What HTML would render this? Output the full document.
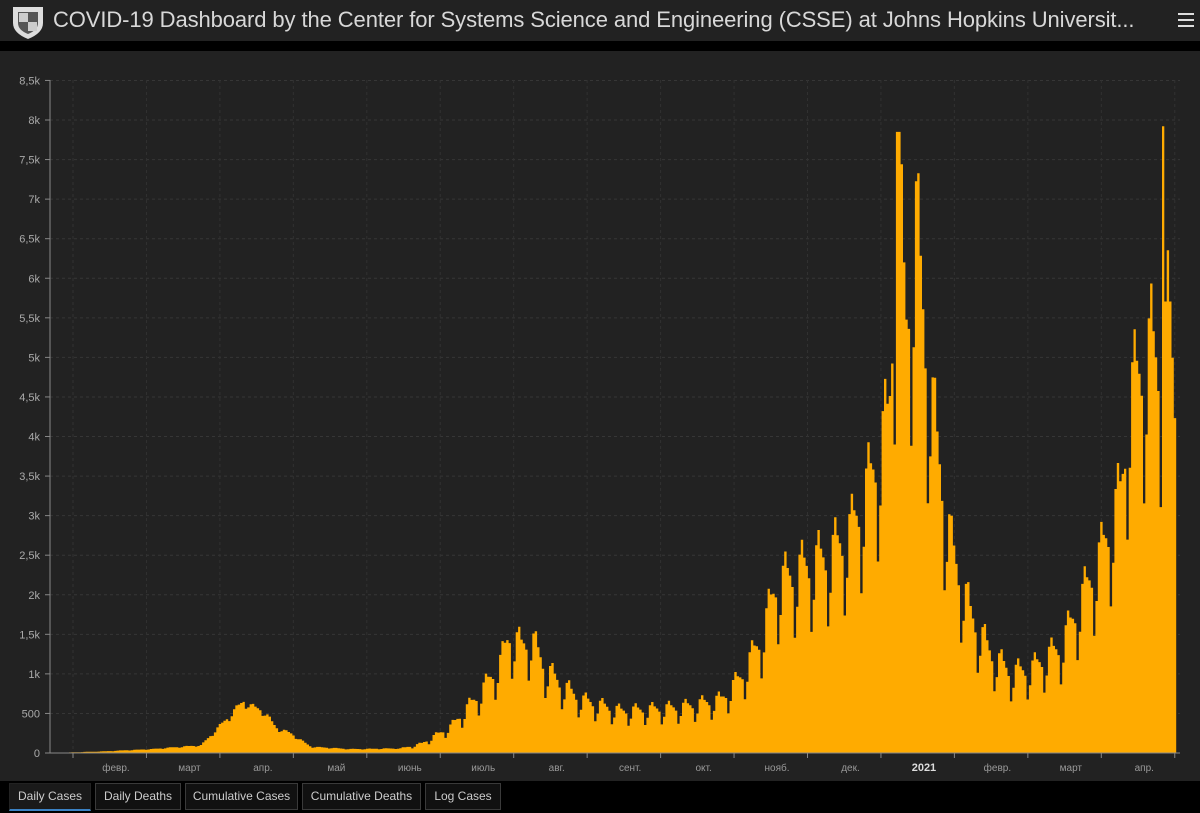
<!DOCTYPE html>
<html><head><meta charset="utf-8"><style>
html,body{margin:0;padding:0;width:1200px;height:813px;overflow:hidden;background:#000;font-family:"Liberation Sans",sans-serif}
#hdr{position:absolute;left:0;top:0;width:1200px;height:41px;background:#222}
#hdr .t{position:absolute;left:53px;top:7px;font-size:22px;color:#d8d8d8;white-space:nowrap;letter-spacing:-0.1px}
#panel{position:absolute;left:0;top:51px;width:1200px;height:730px;background:#222}
#tabs{position:absolute;left:0;top:781px;width:1200px;height:32px;background:#000}
.tab{position:absolute;top:2px;height:25px;border:1px solid #3a3a3a;color:#ccc;font-size:12px;line-height:25px;text-align:center;background:#111}
</style></head><body>
<div id="hdr">
<svg width="40" height="40" style="position:absolute;left:10px;top:3px"><path d="M3 4 L33 4 L33 20 Q33 30 18 36 Q3 30 3 20 Z" fill="#ddd"/><path d="M8 9 L28 9 L28 20 Q28 27 18 31 Q8 27 8 20Z" fill="#555"/><rect x="9" y="10" width="9" height="9" fill="#ccc"/><rect x="18" y="19" width="9" height="9" fill="#ccc"/></svg>
<div class="t">COVID-19 Dashboard by the Center for Systems Science and Engineering (CSSE) at Johns Hopkins Universit...</div>
<svg width="20" height="20" style="position:absolute;left:1177px;top:11px"><rect x="1" y="2" width="16" height="2" fill="#ddd"/><rect x="1" y="8" width="16" height="2" fill="#ddd"/><rect x="1" y="14" width="16" height="2" fill="#ddd"/></svg>
</div>
<div id="panel"></div>
<svg id="ch" width="1200" height="813" style="position:absolute;left:0;top:0"></svg>
<div id="tabs">
<div class="tab" style="left:9px;width:80px;border-color:#222;border-bottom:2px solid #3b82c4;background:#1a1a1a">Daily Cases</div>
<div class="tab" style="left:95px;width:84px">Daily Deaths</div>
<div class="tab" style="left:185px;width:111px">Cumulative Cases</div>
<div class="tab" style="left:302px;width:117px">Cumulative Deaths</div>
<div class="tab" style="left:425px;width:74px">Log Cases</div>
</div>
<script>
var s='',Y0=753,PX=633/8000;
function y(v){return Y0-v*PX;}
for(var k=0;k<=17;k++){var v=k*500,yy=y(v);
 if(k>0)s+='<line x1="50" x2="1180" y1="'+yy+'" y2="'+yy+'" stroke="#363636" stroke-dasharray="3,3"/>';
 s+='<line x1="45" x2="50" y1="'+yy+'" y2="'+yy+'" stroke="#888"/>';
 var lab=v==0?'0':(v<1000?v:(v/1000+'').replace('.',',')+'k');
 s+='<text x="40" y="'+(yy+4)+'" fill="#aaa" font-size="11" text-anchor="end">'+lab+'</text>';}
var months=['февр.','март','апр.','май','июнь','июль','авг.','сент.','окт.','нояб.','дек.','2021','февр.','март','апр.'];
for(var i=0;i<16;i++){var gx=73+i*73.45;
 s+='<line x1="'+gx+'" x2="'+gx+'" y1="80" y2="753" stroke="#313131" stroke-dasharray="3,3"/>';
 s+='<line x1="'+gx+'" x2="'+gx+'" y1="753" y2="758" stroke="#888"/>';
 if(i<15)s+='<text x="'+(gx+43)+'" y="771" fill="'+(i==11?'#ddd':'#999')+'" font-size="'+(i==11?11:10)+'" '+(i==11?'font-weight="bold"':'')+' text-anchor="middle">'+months[i]+'</text>';}
var A=[[50,0],[100,0.02],[150,0.05],[200,0.1],[215,0.3],[230,0.5],[243,0.68],[250,0.6],[262,0.55],[275,0.33],[290,0.25],[310,0.08],[350,0.05],[400,0.06],[420,0.12],[450,0.35],[480,0.8],[500,1.2],[508,1.55],[520,1.4],[530,1.5],[545,1.1],[560,0.9],[580,0.7],[620,0.55],[680,0.6],[720,0.7],[740,1.0],[760,1.5],[775,2.2],[800,2.4],[830,2.6],[850,2.9],[870,3.6],[888,4.4],[897,7.5],[905,5.6],[915,6.9],[925,5.3],[935,4.1],[950,2.7],[970,1.8],[990,1.3],[1010,1.05],[1030,1.1],[1060,1.4],[1080,2.0],[1100,2.6],[1120,3.4],[1128,4.6],[1140,5.0],[1150,5.3],[1160,5.0],[1168,5.8],[1176,4.3]];
function env(x){for(var j=1;j<A.length;j++)if(x<=A[j][0]){var a=A[j-1],b=A[j];return a[1]+(b[1]-a[1])*(x-a[0])/(b[0]-a[0]);}return 4.2;}
var F=[1.05,1.12,1.02,0.97,0.9,0.62,0.78];
var w=2.376,d='';
for(var i=0;;i++){var x=50+i*w;if(x>1176)break;var v=env(x)*1000;
 var f=F[i%7];if(x<400)f=1+(f-1)*0.4;v*=f;
 if(Math.abs(x-897)<2.5)v=7850;if(Math.abs(x-1162)<1.5)v=7920;
 var yy=y(v);d+='M'+x.toFixed(1)+' 753V'+yy.toFixed(1)+'H'+(x+w).toFixed(1)+'V753Z';}
s+='<path d="'+d+'" fill="#ffab00"/>';
s+='<line x1="50" x2="50" y1="80" y2="753" stroke="#888"/><line x1="50" x2="1180" y1="753" y2="753" stroke="#888"/>';
document.getElementById('ch').innerHTML=s;
</script>
</body></html>
